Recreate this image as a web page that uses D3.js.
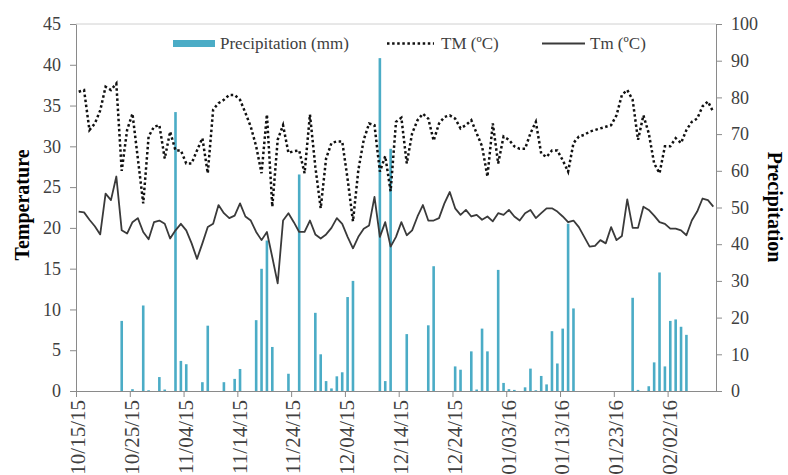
<!DOCTYPE html>
<html>
<head>
<meta charset="utf-8">
<script src="https://cdn.jsdelivr.net/npm/d3@7"></script>
<style>
  body { margin: 0; background: #fff; }
  text { font-family: "Liberation Serif", "Times New Roman", serif; }
</style>
</head>
<body>
<div id="chart"></div>
<script>
// daily series, 10/15/15 .. 02/10/16 (119 days)
const startDate = "10/15/15";
const tickLabels = ["10/15/15", "10/25/15", "11/04/15", "11/14/15", "11/24/15", "12/04/15",
                    "12/14/15", "12/24/15", "01/03/16", "01/13/16", "01/23/16", "02/02/16"];

const precipitation = [
  0, 0, 0, 0, 0, 0, 0, 0, 19.1, 0,
  0.5, 0, 23.3, 0.2, 0, 3.8, 0.4, 0, 76, 8.2,
  7.3, 0, 0, 2.4, 17.8, 0, 0, 2.4, 0, 3.3,
  6.0, 0, 0, 19.3, 33.3, 41, 12, 0, 0, 4.7,
  0, 59, 0, 0, 21.3, 10, 2.7, 0.7, 4, 5.1,
  25.6, 30, 0, 0, 0, 0, 90.7, 2.7, 66, 0,
  0, 15.5, 0, 0, 0, 17.9, 34, 0, 0, 0,
  6.7, 5.8, 0, 10.8, 0.4, 17, 10.8, 0, 33, 2.2,
  0.5, 0.3, 0, 1.0, 6.1, 0.2, 4.1, 1.8, 16.3, 7.5,
  17, 45.6, 22.5, 0, 0, 0, 0, 0, 0, 0,
  0, 0, 0, 25.4, 0.3, 0, 1.3, 7.8, 32.3, 6.7,
  19.1, 19.5, 17.5, 15.3, 0, 0, 0, 0, 0
];

const tMax = [
  36.7, 36.9, 32.0, 32.8, 34.4, 37.3, 36.9, 37.7, 27.0, 32.0,
  34.0, 28.5, 23.0, 31.2, 32.4, 32.6, 28.5, 31.8, 29.5, 29.5,
  27.9, 27.9, 29.5, 31.0, 26.7, 34.5, 35.3, 35.7, 36.3, 36.3,
  35.7, 34.1, 32.4, 30.0, 26.7, 33.9, 22.6, 30.8, 32.6, 29.2,
  29.4, 29.5, 26.7, 33.9, 27.5, 22.4, 28.5, 30.4, 30.6, 30.6,
  26.0, 20.8, 27.1, 30.8, 32.8, 32.6, 26.9, 28.8, 24.5, 33.0,
  33.5, 27.9, 31.6, 33.2, 34.0, 33.4, 30.7, 32.8, 33.6, 33.8,
  33.4, 32.2, 32.6, 33.2, 31.6, 30.0, 26.3, 32.8, 27.9, 31.2,
  30.8, 30.0, 29.7, 29.7, 31.6, 33.0, 29.1, 28.7, 29.5, 29.5,
  28.3, 26.9, 30.4, 31.2, 31.4, 31.8, 32.0, 32.2, 32.4, 32.6,
  33.8, 36.3, 36.9, 35.7, 30.8, 33.8, 31.6, 27.9, 26.7, 30.0,
  30.0, 31.0, 30.4, 32.0, 33.0, 33.4, 34.9, 35.5, 34.2
];

const tMin = [
  22.0, 21.9, 21.0, 20.2, 19.2, 24.2, 23.4, 26.3, 19.7, 19.3,
  20.7, 21.2, 19.5, 18.6, 20.7, 20.9, 20.5, 18.7, 19.7, 20.5,
  19.7, 18.1, 16.2, 18.1, 20.1, 20.5, 22.8, 21.8, 21.2, 21.5,
  23.0, 21.4, 20.9, 19.5, 18.5, 19.5, 16.4, 13.2, 20.9, 21.8,
  20.7, 19.5, 19.5, 20.9, 19.2, 18.7, 19.2, 20.0, 21.2, 20.5,
  18.9, 17.5, 18.9, 19.9, 20.3, 23.8, 18.9, 20.7, 17.7, 18.9,
  20.7, 19.1, 19.7, 21.4, 22.8, 20.9, 20.9, 21.2, 23.0, 24.4,
  22.4, 21.6, 22.2, 21.4, 21.6, 21.0, 21.4, 20.8, 21.8, 21.6,
  22.2, 21.4, 20.9, 21.8, 22.2, 21.2, 21.8, 22.4, 22.4, 22.0,
  21.4, 20.7, 20.9, 20.1, 18.9, 17.7, 17.8, 18.5, 18.1, 20.1,
  18.5, 19.0, 23.5, 20.0, 20.0, 22.6, 22.2, 21.5, 20.7, 20.5,
  19.9, 19.9, 19.7, 19.1, 20.9, 22.0, 23.6, 23.4, 22.6
];

const legendLabels = ["Precipitation (mm)", "TM (ºC)", "Tm (ºC)"];

const W = 788, H = 475;
const margin = {top: 24, right: 72, bottom: 84, left: 76};
const width = W - margin.left - margin.right,
      height = H - margin.top - margin.bottom;

const parse = d3.timeParse("%m/%d/%y");
const t0 = parse(startDate);
const days = d3.timeDay.range(t0, d3.timeDay.offset(t0, tMax.length));
const mid = d => d3.timeHour.offset(d, 12);

const svg = d3.select("#chart")
  .append("svg")
    .attr("width", W)
    .attr("height", H);

const g = svg.append("g")
    .attr("transform", `translate(${margin.left},${margin.top})`);

const x = d3.scaleTime()
    .domain([t0, d3.timeDay.offset(t0, days.length)])
    .range([0, width]);

const yT = d3.scaleLinear().domain([0, 45]).range([height, 0]);
const yP = d3.scaleLinear().domain([0, 100]).range([height, 0]);

// frame top
g.append("line")
    .attr("x1", 0).attr("x2", width)
    .attr("y1", 0).attr("y2", 0)
    .attr("stroke", "#d0d0d0");

// bars
const barW = 2.6;
g.selectAll("rect.bar")
  .data(days.map((d, i) => ({d, v: precipitation[i]})).filter(o => o.v > 0))
  .join("rect")
    .attr("class", "bar")
    .attr("x", o => x(mid(o.d)) - barW / 2)
    .attr("y", o => yP(o.v))
    .attr("width", barW)
    .attr("height", o => height - yP(o.v))
    .attr("fill", "#4bacc6");

// lines
const line = arr => d3.line()
    .x((d, i) => x(mid(d)))
    .y((d, i) => yT(arr[i]))(days);

g.append("path")
    .attr("d", line(tMin))
    .attr("fill", "none")
    .attr("stroke", "#3a3a3a")
    .attr("stroke-width", 1.8)
    .attr("stroke-linejoin", "round");

g.append("path")
    .attr("d", line(tMax))
    .attr("fill", "none")
    .attr("stroke", "#111")
    .attr("stroke-width", 2.5)
    .attr("stroke-dasharray", "2.5,2.6");

// axes
const axisStyle = sel => {
  sel.select(".domain").attr("stroke", "#8a8a8a");
  sel.selectAll(".tick line").attr("stroke", "#8a8a8a");
  sel.selectAll("text")
    .attr("fill", "#404040")
    .style("font-size", "18px")
    .style("font-family", "'Liberation Serif', 'Times New Roman', serif");
};

g.append("g")
    .call(d3.axisLeft(yT).tickValues(d3.range(0, 46, 5)).tickSize(6).tickPadding(9).tickSizeOuter(0))
    .call(axisStyle);

g.append("g")
    .attr("transform", `translate(${width},0)`)
    .call(d3.axisRight(yP).tickValues(d3.range(0, 101, 10)).tickSize(6).tickPadding(9).tickSizeOuter(0))
    .call(axisStyle);

const xAxis = g.append("g")
    .attr("transform", `translate(0,${height})`)
    .call(d3.axisBottom(x).tickValues(tickLabels.map(parse)).tickFormat(d3.timeFormat("%m/%d/%y"))
          .tickSize(6).tickSizeOuter(0))
    .call(axisStyle);

xAxis.selectAll("text")
    .style("font-size", "21px")
    .attr("text-anchor", "end")
    .attr("transform", "rotate(-90)")
    .attr("x", -9)
    .attr("y", 0)
    .attr("dy", "0.42em");

// axis titles
svg.append("text")
    .attr("transform", "translate(29,205) rotate(-90)")
    .attr("text-anchor", "middle")
    .style("font-size", "20px")
    .style("font-weight", "bold")
    .text("Temperature");

svg.append("text")
    .attr("transform", "translate(768,207) rotate(90)")
    .attr("text-anchor", "middle")
    .style("font-size", "20px")
    .style("font-weight", "bold")
    .text("Precipitation");

// legend
const leg = svg.append("g");
leg.append("rect")
    .attr("x", 173).attr("y", 40).attr("width", 42).attr("height", 7)
    .attr("fill", "#4bacc6");
leg.append("text").attr("x", 220).attr("y", 43.5).attr("dy", "0.35em")
    .style("font-size", "17px").attr("fill", "#404040").text(legendLabels[0]);

leg.append("line")
    .attr("x1", 387).attr("x2", 434).attr("y1", 43.5).attr("y2", 43.5)
    .attr("stroke", "#111").attr("stroke-width", 2.5).attr("stroke-dasharray", "2.5,2.6");
leg.append("text").attr("x", 441).attr("y", 43.5).attr("dy", "0.35em")
    .style("font-size", "17px").attr("fill", "#404040").text(legendLabels[1]);

leg.append("line")
    .attr("x1", 542).attr("x2", 585).attr("y1", 43.5).attr("y2", 43.5)
    .attr("stroke", "#3a3a3a").attr("stroke-width", 1.8);
leg.append("text").attr("x", 590).attr("y", 43.5).attr("dy", "0.35em")
    .style("font-size", "17px").attr("fill", "#404040").text(legendLabels[2]);
</script>
</body>
</html>
